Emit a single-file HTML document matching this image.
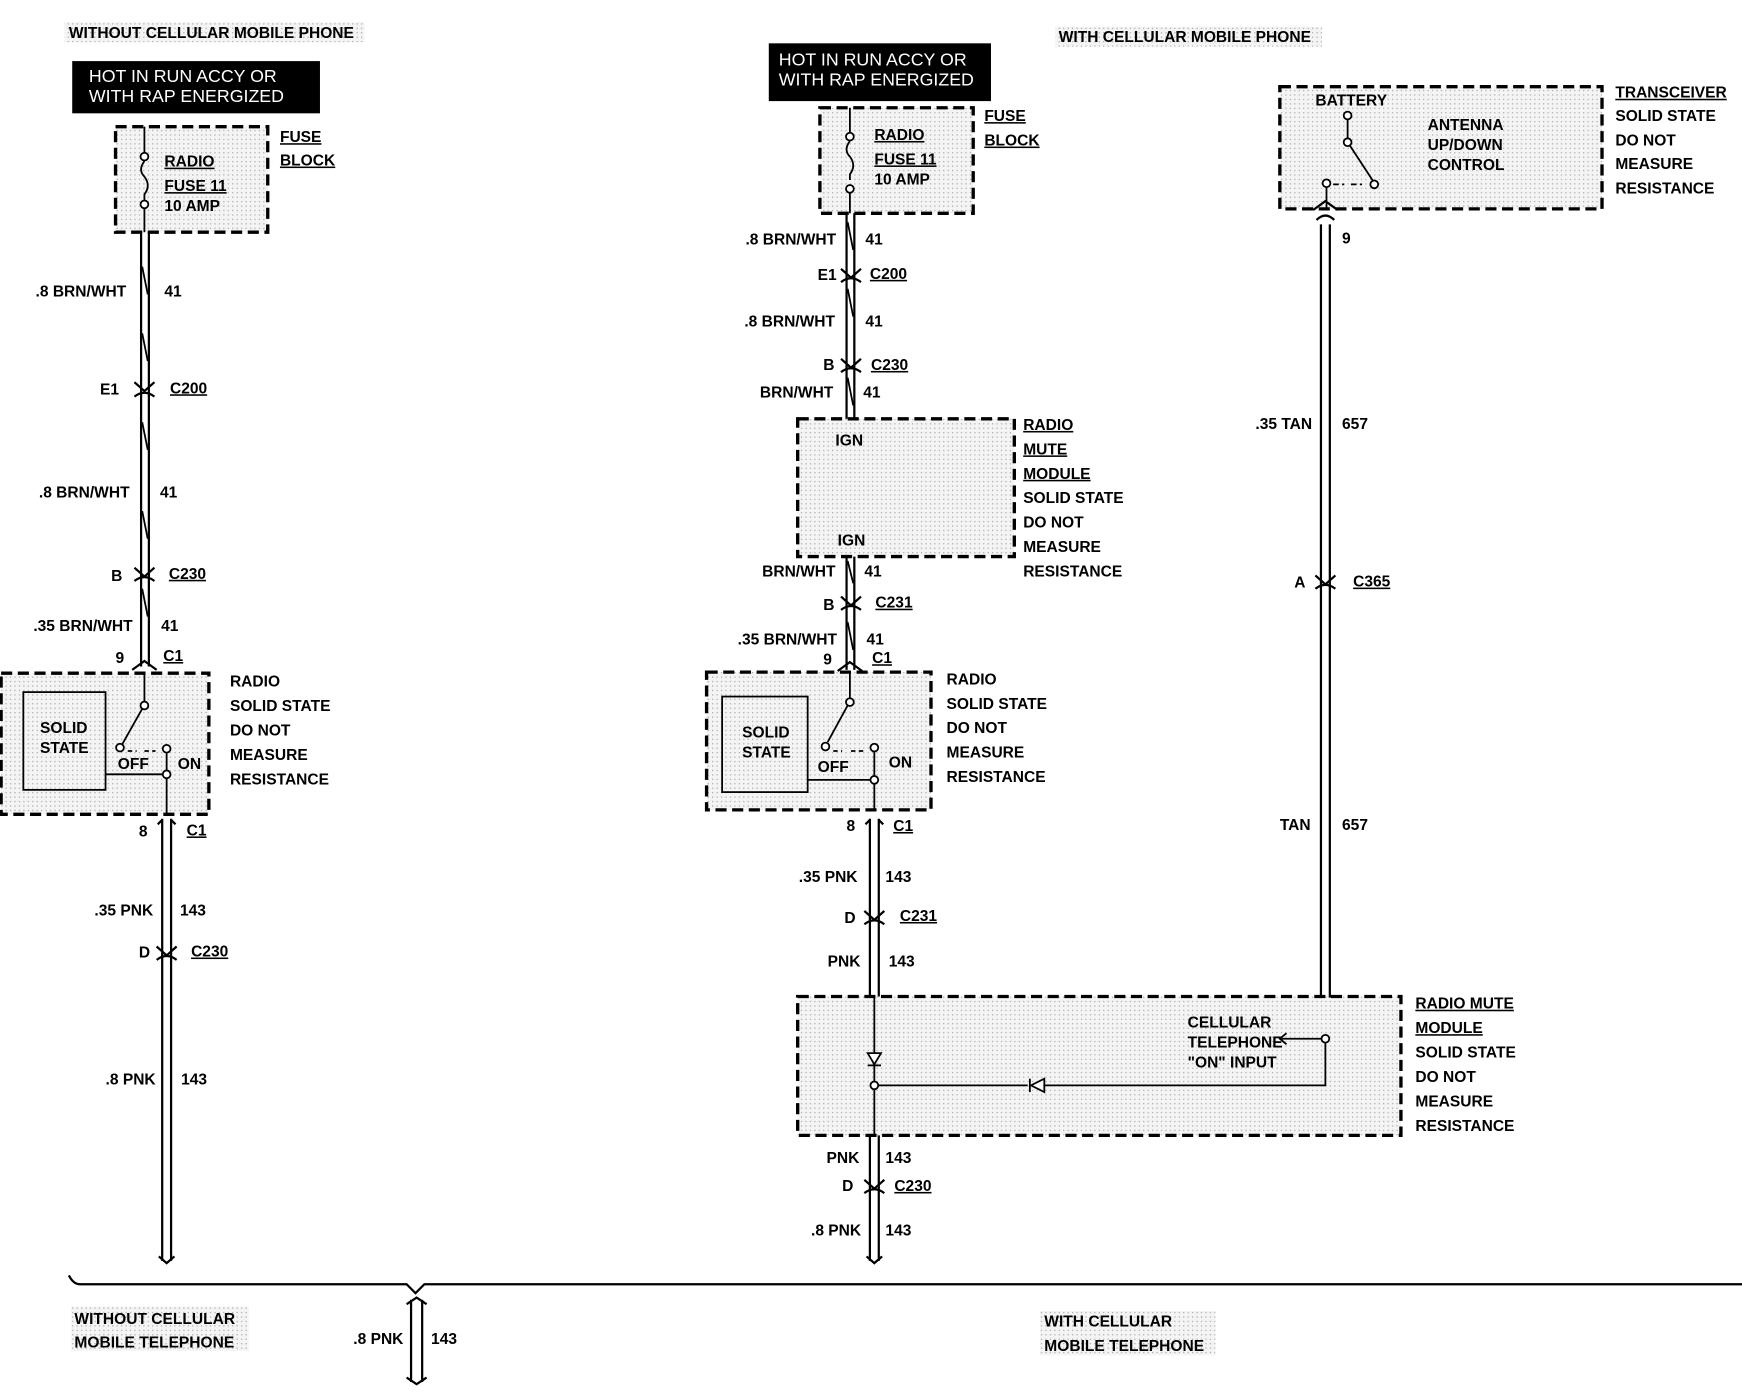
<!DOCTYPE html>
<html><head><meta charset="utf-8"><style>
html,body{margin:0;padding:0;background:#fff}
svg{display:block}
text{font-family:"Liberation Sans Narrow","Liberation Sans",sans-serif;font-weight:bold;font-size:14px;fill:#000}
.h{font-family:"Liberation Sans",sans-serif;font-weight:normal;font-size:16px;fill:#fff}
.u{text-decoration:underline}
.w{fill:none;stroke:#000;stroke-width:2}
.bx{fill:url(#dots);stroke:#000;stroke-width:3;stroke-dasharray:10 5}
.ln{fill:none;stroke:#000;stroke-width:1.6}
.c{fill:#fff;stroke:#000;stroke-width:1.6}
</style></head><body>
<svg width="1742" height="1392" viewBox="0 0 1568 1253" preserveAspectRatio="none" xmlns="http://www.w3.org/2000/svg">
<defs>
<pattern id="dots" width="4" height="4" patternUnits="userSpaceOnUse"><rect width="4" height="4" fill="#f4f4f4"/><rect x="1" y="1" width="1" height="1" fill="#999"/></pattern>
</defs>

<!-- headings -->
<rect x="58" y="20" width="270" height="18" fill="url(#dots)"/>
<text x="62" y="34" font-size="13">WITHOUT CELLULAR MOBILE PHONE</text>
<rect x="950" y="24" width="240" height="18" fill="url(#dots)"/>
<text x="953" y="38" font-size="13">WITH CELLULAR MOBILE PHONE</text>
<rect x="65" y="55" width="223" height="47" fill="#000"/>
<text class="h" x="80" y="74">HOT IN RUN ACCY OR</text>
<text class="h" x="80" y="92">WITH RAP ENERGIZED</text>
<rect x="692" y="39" width="200" height="52" fill="#000"/>
<text class="h" x="701" y="59">HOT IN RUN ACCY OR</text>
<text class="h" x="701" y="77">WITH RAP ENERGIZED</text>

<!-- LEFT fuse block -->
<rect class="bx" x="104" y="114" width="137" height="95"/>
<line class="ln" x1="130" y1="114" x2="130" y2="140"/>
<path class="ln" d="M130 145 q-6 8 0 14 q6 8 0 16 v5"/>
<circle class="c" cx="130" cy="141" r="3.5"/><circle class="c" cx="130" cy="184" r="3.5"/>
<line class="ln" x1="130" y1="188" x2="130" y2="209"/>
<text x="148" y="150" class="u">RADIO</text>
<text x="148" y="172" class="u">FUSE 11</text>
<text x="148" y="190" font-size="11">10 AMP</text>
<text x="252" y="128" class="u">FUSE</text>
<text x="252" y="149" class="u">BLOCK</text>

<!-- left upper wire -->
<path class="w" d="M127 209 V600 M134 209 V600"/>
<path class="ln" d="M128 240 l5 25 M128 300 l5 25 M128 380 l5 25 M128 460 l5 25 M128 530 l5 25"/>
<text x="32" y="267">.8 BRN/WHT</text><text x="148" y="267">41</text>
<path class="w" d="M121 344 l9 8 l9 -8 M121 357 q9 -7 18 0"/>
<text x="90" y="355">E1</text><text x="153" y="354" class="u">C200</text>
<text x="35" y="448">.8 BRN/WHT</text><text x="144" y="448">41</text>
<path class="w" d="M121 511 l9 8 l9 -8 M121 523 q9 -7 18 0"/>
<text x="100" y="523">B</text><text x="152" y="521" class="u">C230</text>
<text x="30" y="568">.35 BRN/WHT</text><text x="145" y="568">41</text>
<path class="w" d="M119 603 l11 -8 l11 8"/>
<text x="104" y="597">9</text><text x="147" y="595" class="u">C1</text>

<!-- LEFT radio box -->
<rect class="bx" x="1" y="606" width="187" height="127"/>
<rect x="21" y="623" width="74" height="88" fill="url(#dots)" stroke="#000" stroke-width="1.6"/>
<text x="36" y="660" font-size="12">SOLID</text><text x="36" y="678" font-size="12">STATE</text>
<line class="ln" x1="130" y1="606" x2="130" y2="632"/>
<circle class="c" cx="130" cy="635" r="3.5"/>
<line class="ln" x1="128" y1="638" x2="110" y2="670"/>
<circle class="c" cx="108" cy="673" r="3.5"/>
<path class="ln" d="M115 676 h8 M130 676 h10" stroke-dasharray="4 3"/>
<circle class="c" cx="150" cy="674" r="3.5"/>
<line class="ln" x1="95" y1="697" x2="150" y2="697"/>
<line class="ln" x1="150" y1="678" x2="150" y2="733"/>
<circle class="c" cx="150" cy="697" r="3.5"/>
<text x="106" y="692" font-size="12">OFF</text><text x="160" y="692" font-size="12">ON</text>
<text x="207" y="618">RADIO</text><text x="207" y="640">SOLID STATE</text><text x="207" y="662">DO NOT</text><text x="207" y="684">MEASURE</text><text x="207" y="706">RESISTANCE</text>

<!-- left lower wire -->
<path class="w" d="M142 742 l4 -4 M158 742 l-4 -4"/>
<path class="w" d="M146 737 V1135 M154 737 V1135"/>
<text x="125" y="753">8</text><text x="168" y="752" class="u">C1</text>
<text x="85" y="824">.35 PNK</text><text x="162" y="824">143</text>
<path class="w" d="M141 852 l9 8 l9 -8 M141 864 q9 -7 18 0"/>
<text x="125" y="862">D</text><text x="172" y="861" class="u">C230</text>
<text x="95" y="976">.8 PNK</text><text x="163" y="976">143</text>
<path class="w" d="M143 1131 l7 6 l7 -6"/>

<!-- MIDDLE fuse block -->
<rect class="bx" x="738" y="97" width="138" height="95"/>
<line class="ln" x1="765" y1="97" x2="765" y2="122"/>
<path class="ln" d="M765 127 q-6 8 0 14 q6 8 0 16 v5"/>
<circle class="c" cx="765" cy="123" r="3.5"/><circle class="c" cx="765" cy="170" r="3.5"/>
<line class="ln" x1="765" y1="174" x2="765" y2="192"/>
<text x="787" y="126" class="u">RADIO</text>
<text x="787" y="148" class="u">FUSE 11</text>
<text x="787" y="166" font-size="11">10 AMP</text>
<text x="886" y="109" class="u">FUSE</text>
<text x="886" y="131" class="u">BLOCK</text>

<path class="w" d="M762 192 V377 M769 192 V377"/>
<path class="ln" d="M763 200 l5 25 M763 260 l5 25 M763 340 l5 25"/>
<text x="671" y="220">.8 BRN/WHT</text><text x="779" y="220">41</text>
<path class="w" d="M757 242 l9 8 l9 -8 M757 254 q9 -7 18 0"/>
<text x="736" y="252">E1</text><text x="783" y="251" class="u">C200</text>
<text x="670" y="294">.8 BRN/WHT</text><text x="779" y="294">41</text>
<path class="w" d="M757 323 l9 8 l9 -8 M757 335 q9 -7 18 0"/>
<text x="741" y="333">B</text><text x="784" y="333" class="u">C230</text>
<text x="684" y="358">BRN/WHT</text><text x="777" y="358">41</text>

<!-- radio mute module -->
<rect class="bx" x="718" y="377" width="195" height="124"/>
<text x="752" y="401" font-size="12">IGN</text>
<text x="754" y="491" font-size="12">IGN</text>
<text x="921" y="387" class="u">RADIO</text><text x="921" y="409" class="u">MUTE</text><text x="921" y="431" class="u">MODULE</text>
<text x="921" y="453">SOLID STATE</text><text x="921" y="475">DO NOT</text><text x="921" y="497">MEASURE</text><text x="921" y="519">RESISTANCE</text>

<path class="w" d="M762 501 V603 M769 501 V603"/>
<path class="ln" d="M763 505 l5 20 M763 560 l5 25"/>
<text x="686" y="519">BRN/WHT</text><text x="778" y="519">41</text>
<path class="w" d="M757 537 l9 8 l9 -8 M757 549 q9 -7 18 0"/>
<text x="741" y="549">B</text><text x="788" y="547" class="u">C231</text>
<text x="664" y="580">.35 BRN/WHT</text><text x="780" y="580">41</text>
<path class="w" d="M754 604 l11 -8 l11 8"/>
<text x="741" y="598">9</text><text x="785" y="597" class="u">C1</text>

<!-- middle radio -->
<rect class="bx" x="636" y="605" width="202" height="124"/>
<rect x="650" y="627" width="77" height="86" fill="url(#dots)" stroke="#000" stroke-width="1.6"/>
<text x="668" y="664" font-size="12">SOLID</text><text x="668" y="682" font-size="12">STATE</text>
<line class="ln" x1="765" y1="605" x2="765" y2="628"/>
<circle class="c" cx="765" cy="632" r="3.5"/>
<line class="ln" x1="763" y1="635" x2="745" y2="668"/>
<circle class="c" cx="743" cy="672" r="3.5"/>
<path class="ln" d="M750 676 h8 M766 676 h12" stroke-dasharray="4 3"/>
<circle class="c" cx="787" cy="673" r="3.5"/>
<line class="ln" x1="727" y1="702" x2="787" y2="702"/>
<line class="ln" x1="787" y1="677" x2="787" y2="729"/>
<circle class="c" cx="787" cy="702" r="3.5"/>
<text x="736" y="695" font-size="12">OFF</text><text x="800" y="691" font-size="12">ON</text>
<text x="852" y="616">RADIO</text><text x="852" y="638">SOLID STATE</text><text x="852" y="660">DO NOT</text><text x="852" y="682">MEASURE</text><text x="852" y="704">RESISTANCE</text>

<path class="w" d="M783 737 V897 M791 737 V897"/>
<path class="w" d="M779 742 l4 -4 M795 742 l-4 -4"/>
<text x="762" y="748">8</text><text x="804" y="748" class="u">C1</text>
<text x="719" y="794">.35 PNK</text><text x="797" y="794">143</text>
<path class="w" d="M778 820 l9 8 l9 -8 M778 832 q9 -7 18 0"/>
<text x="760" y="831">D</text><text x="810" y="829" class="u">C231</text>
<text x="745" y="870">PNK</text><text x="800" y="870">143</text>

<!-- lower radio mute module -->
<rect class="bx" x="718" y="897" width="543" height="125"/>
<line class="ln" x1="787" y1="897" x2="787" y2="1022"/>
<path d="M781 948 h12 l-6 10 z" fill="#fff" stroke="#000" stroke-width="1.6"/><line class="ln" x1="781" y1="959" x2="793" y2="959"/>
<circle class="c" cx="787" cy="977" r="3.5"/>
<line class="ln" x1="791" y1="977" x2="925" y2="977"/>
<path d="M928 977 l12 -6 v12 z" fill="#fff" stroke="#000" stroke-width="1.6"/><line class="ln" x1="927" y1="971" x2="927" y2="983"/>
<path class="ln" d="M940 977 H1193 V935"/>
<circle class="c" cx="1193" cy="935" r="3.5"/>
<path class="ln" d="M1189 935 H1152 M1158 930 l-6 5 l6 5"/>
<text x="1069" y="925" font-size="12">CELLULAR</text>
<text x="1069" y="943" font-size="12">TELEPHONE</text>
<text x="1069" y="961" font-size="12">"ON" INPUT</text>
<text x="1274" y="908" class="u">RADIO MUTE</text><text x="1274" y="930" class="u">MODULE</text>
<text x="1274" y="952">SOLID STATE</text><text x="1274" y="974">DO NOT</text><text x="1274" y="996">MEASURE</text><text x="1274" y="1018">RESISTANCE</text>

<path class="w" d="M783 1022 V1135 M791 1022 V1135"/>
<text x="744" y="1047">PNK</text><text x="797" y="1047">143</text>
<path class="w" d="M778 1062 l9 8 l9 -8 M778 1074 q9 -7 18 0"/>
<text x="758" y="1072">D</text><text x="805" y="1072" class="u">C230</text>
<text x="730" y="1112">.8 PNK</text><text x="797" y="1112">143</text>
<path class="w" d="M780 1131 l7 6 l7 -6"/>

<!-- RIGHT transceiver -->
<rect class="bx" x="1152" y="78" width="290" height="110"/>
<text x="1184" y="95" font-size="12">BATTERY</text>
<circle class="c" cx="1213" cy="104" r="3.5"/>
<line class="ln" x1="1213" y1="108" x2="1213" y2="124"/>
<circle class="c" cx="1213" cy="128" r="3.5"/>
<line class="ln" x1="1215" y1="131" x2="1236" y2="163"/>
<circle class="c" cx="1237" cy="166" r="3.5"/>
<path class="ln" d="M1200 166 h10 M1216 166 h10" stroke-dasharray="5 3"/>
<circle class="c" cx="1194" cy="165" r="3.5"/>
<line class="ln" x1="1194" y1="169" x2="1194" y2="188"/>
<text x="1285" y="117" font-size="12">ANTENNA</text><text x="1285" y="135" font-size="12">UP/DOWN</text><text x="1285" y="153" font-size="12">CONTROL</text>
<text x="1454" y="88" class="u">TRANSCEIVER</text><text x="1454" y="109">SOLID STATE</text><text x="1454" y="131">DO NOT</text><text x="1454" y="152">MEASURE</text><text x="1454" y="174">RESISTANCE</text>

<path class="w" d="M1189 202 V898 M1197 202 V898"/>
<path class="w" d="M1185 198 q8 -8 16 0"/>
<path class="w" d="M1182 189 l11 -8 l11 8"/>
<text x="1208" y="219" font-size="12">9</text>
<text x="1130" y="386">.35 TAN</text><text x="1208" y="386">657</text>
<path class="w" d="M1184 518 l9 8 l9 -8 M1184 530 q9 -7 18 0"/>
<text x="1165" y="529">A</text><text x="1218" y="528" class="u">C365</text>
<text x="1152" y="747">TAN</text><text x="1208" y="747">657</text>

<!-- bottom bus -->
<path class="w" d="M62 1148 q4 8 10 8 H366 l8 8 l8 -8 H1568"/>
<path class="w" d="M370 1170 V1244 M380 1170 V1244 M366 1174 l9 -6 l9 6 M366 1240 l9 6 l9 -6"/>
<text x="318" y="1210">.8 PNK</text><text x="388" y="1210">143</text>
<rect x="64" y="1176" width="160" height="40" fill="url(#dots)"/>
<text x="67" y="1192">WITHOUT CELLULAR</text><text x="67" y="1213">MOBILE TELEPHONE</text>
<rect x="936" y="1180" width="158" height="40" fill="url(#dots)"/>
<text x="940" y="1194">WITH CELLULAR</text><text x="940" y="1216">MOBILE TELEPHONE</text>
</svg>
</body></html>
